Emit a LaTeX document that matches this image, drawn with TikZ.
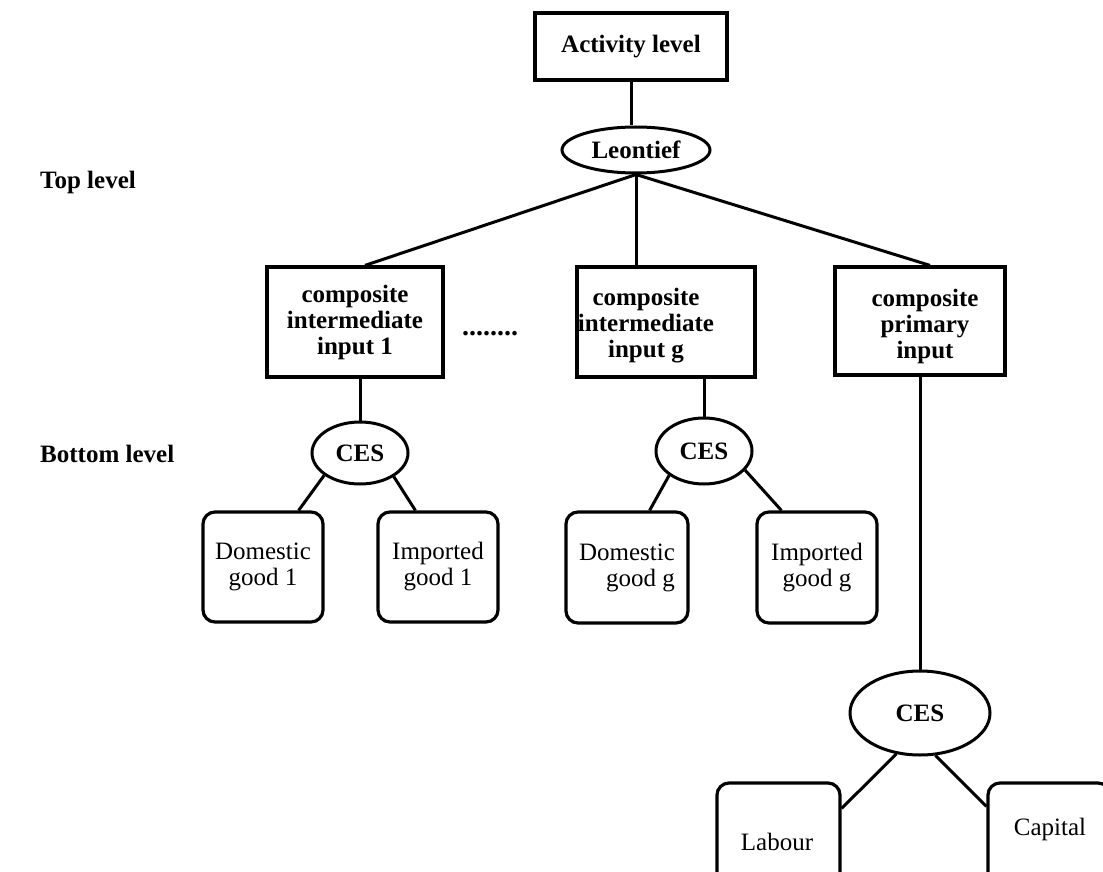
\documentclass[tikz,border=0pt]{standalone}
\usepackage{fontspec}
\setmainfont{Liberation Serif}
\usetikzlibrary{shapes.geometric}
\begin{document}
\begin{tikzpicture}[x=1pt,y=-1pt,
  txt/.style={font=\fontsize{25}{26}\selectfont, inner sep=0pt},
  btxt/.style={font=\fontsize{25}{26}\selectfont\bfseries, inner sep=0pt},
  sq/.style={draw, rectangle, inner sep=0pt, line width=3.2pt},
  rnd/.style={draw, rectangle, rounded corners=12pt, inner sep=0pt, line width=3.2pt},
  ell/.style={draw, ellipse, inner sep=0pt, line width=3pt, font=\fontsize{25}{26}\selectfont\bfseries},
  conn/.style={line width=3pt}]
\clip (0,0) rectangle (1103,872);
% left labels
\node[btxt, anchor=base west] (toplab) at (40,188) {Top level};
\node[btxt, anchor=base west] (botlab) at (40,462) {Bottom level};
% top
\node[sq, minimum width=192pt, minimum height=67pt, btxt] (act) at (631,46.5) {Activity level};
\node[ell, minimum width=148pt, minimum height=46pt] (leo) at (636,150) {Leontief};
% composite boxes
\node[sq, minimum width=176pt, minimum height=110pt, btxt, align=center] (ci1) at (355,322) {composite\\intermediate\\input 1};
\node[btxt, font=\fontsize{28}{28}\selectfont\bfseries] (dots) at (490,334) {........};
\node[sq, minimum width=178pt, minimum height=110pt] (ci2) at (666,322) {};
\node[btxt, align=center] (ci2t) at (646,326) {composite\\intermediate\\input g};
\node[sq, minimum width=170pt, minimum height=108pt] (ci3) at (920,321) {};
\node[btxt, align=center] (ci3t) at (925,326) {composite\\primary\\input};
% CES nodes
\node[ell, minimum width=96pt, minimum height=62pt] (ces1) at (360,453) {CES};
\node[ell, minimum width=96pt, minimum height=66pt] (ces2) at (704,451) {CES};
\node[ell, minimum width=140pt, minimum height=84pt] (ces3) at (920,713) {CES};
% goods
\node[rnd, minimum width=120pt, minimum height=110pt, txt, align=center] (dom1) at (263,567) {Domestic\\good 1};
\node[rnd, minimum width=120pt, minimum height=110pt, txt, align=center] (imp1) at (438,567) {Imported\\good 1};
\node[rnd, minimum width=122pt, minimum height=111pt, txt, align=right] (domg) at (627,567.5) {Domestic\\good g};
\node[rnd, minimum width=120pt, minimum height=111pt, txt, align=center] (impg) at (817,567.5) {Imported\\good g};
\node[rnd, minimum width=123pt, minimum height=117pt] (lab) at (778.5,841.5) {};
\node[txt, anchor=base] (labt) at (777,850) {Labour};
\node[rnd, minimum width=122pt, minimum height=117pt] (cap) at (1049,841.5) {};
\node[txt, anchor=base] (capt) at (1050,835) {Capital};
% connectors
\draw[conn] (act.south) -- (act.south |- leo.north);
\draw[conn] (leo.south) -- ([xshift=10pt]ci1.north);
\draw[conn] (leo.south) -- (leo.south |- ci2.north);
\draw[conn] (leo.south) -- ([xshift=10pt]ci3.north);
\draw[conn] (ces1.north |- ci1.south) -- (ces1.north);
\draw[conn] (ces2.north |- ci2.south) -- (ces2.north);
\draw[conn] (ces3.north |- ci3.south) -- (ces3.north);
\draw[conn] (ces1.212) -- ([xshift=-26pt]dom1.north east);
\draw[conn] (ces1.-35) -- ([xshift=39pt]imp1.north west);
\draw[conn] (ces2.215) -- ([xshift=-40pt]domg.north east);
\draw[conn] (ces2.-25) -- ([xshift=26pt]impg.north west);
\draw[conn] (ces3.240) -- ([yshift=-27pt]lab.north east);
\draw[conn] (ces3.-70) -- ([yshift=-25pt]cap.north west);
\end{tikzpicture}
\end{document}
